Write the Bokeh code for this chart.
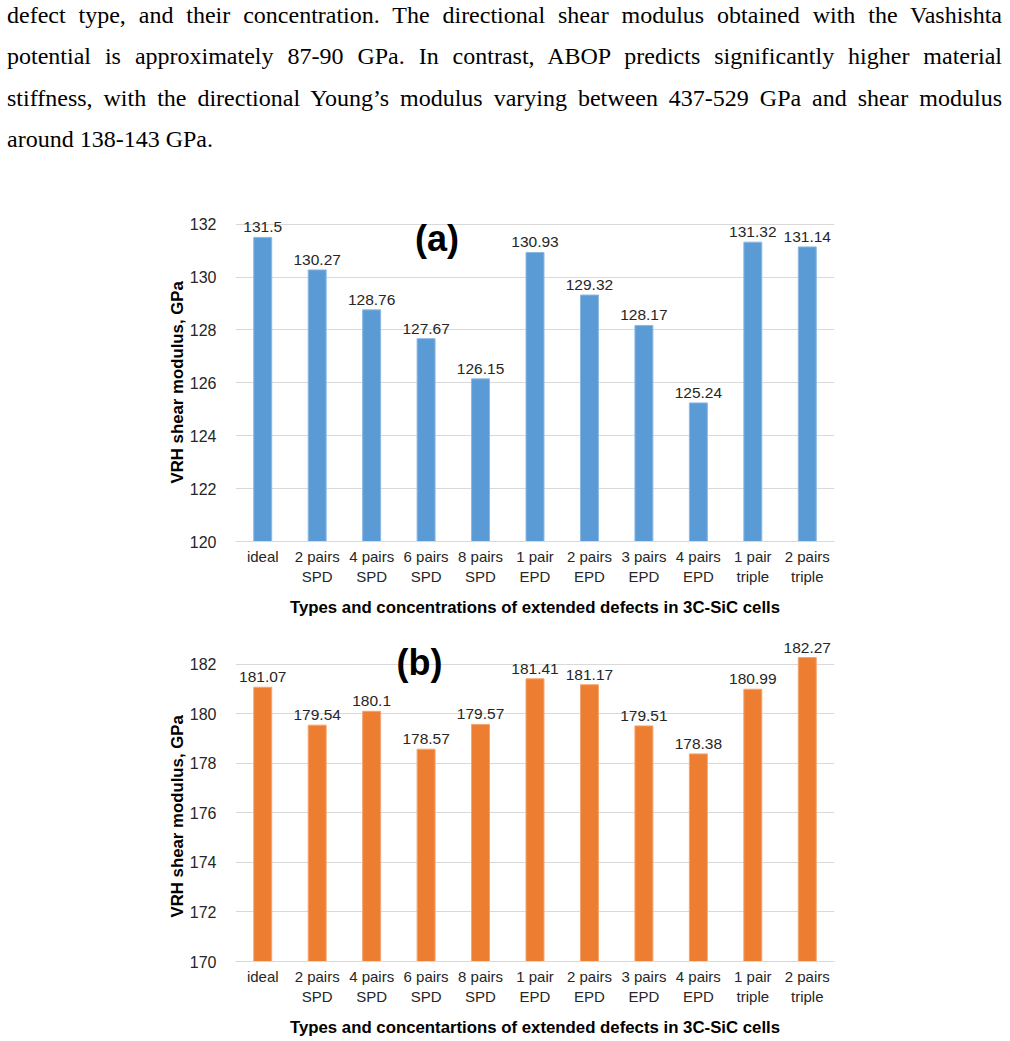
from bokeh.core.properties import value
from bokeh.embed import file_html
from bokeh.layouts import column
from bokeh.models import Div, FactorRange, FixedTicker, Label, Range1d, Title
from bokeh.plotting import figure
from bokeh.resources import INLINE

# ---------------------------------------------------------------- data
categories = [
    "ideal",
    "2 pairs\nSPD", "4 pairs\nSPD", "6 pairs\nSPD", "8 pairs\nSPD",
    "1 pair\nEPD", "2 pairs\nEPD", "3 pairs\nEPD", "4 pairs\nEPD",
    "1 pair\ntriple", "2 pairs\ntriple",
]
shear_a = [131.5, 130.27, 128.76, 127.67, 126.15, 130.93, 129.32, 128.17, 125.24, 131.32, 131.14]
shear_b = [181.07, 179.54, 180.1, 178.57, 179.57, 181.41, 181.17, 179.51, 178.38, 180.99, 182.27]
ticks_a = [120, 122, 124, 126, 128, 130, 132]
ticks_b = [170, 172, 174, 176, 178, 180, 182]

y_title = "VRH shear modulus, GPa"
x_title_a = "Types and concentrations of extended defects in 3C-SiC cells"
x_title_b = "Types and concentartions of extended defects in 3C-SiC cells"

paragraph_lines = [
    "defect type, and their concentration. The directional shear modulus obtained with the Vashishta",
    "potential is approximately 87-90 GPa. In contrast, ABOP predicts significantly higher material",
    "stiffness, with the directional Young\u2019s modulus varying between 437-529 GPa and shear modulus",
    "around 138-143 GPa.",
]

SANS = "Liberation Sans"
TEXT_DARK = "#262626"
W = 1010


def bar_panel(values, ticks, fill, edge, height, b_top, b_bottom, b_left, y_top,
              x_title, tag, tag_xy, ytitle_offset):
    p = figure(
        width=W, height=height,
        x_range=FactorRange(factors=categories),
        y_range=Range1d(ticks[0], y_top),
        output_backend="svg", toolbar_location=None,
        min_border_top=b_top, min_border_bottom=b_bottom,
        min_border_left=b_left, min_border_right=W - b_left - 601,
        background_fill_color="white", border_fill_color="white",
    )
    p.outline_line_color = None
    p.xgrid.grid_line_color = None
    p.ygrid.ticker = FixedTicker(ticks=ticks)
    p.ygrid.grid_line_color = "#D9D9D9"
    p.ygrid.grid_line_width = 1

    p.vbar(x=categories, top=values, bottom=ticks[0], width=0.33,
           fill_color=fill, line_color=edge, line_width=1)

    # value labels above the bars
    p.text(x=categories, y=values, text=[f"{v:g}" for v in values],
           text_align="center", text_baseline="bottom", y_offset=-5,
           text_font=value(SANS), text_font_size="15.5px", text_color=TEXT_DARK)

    ya = p.yaxis[0]
    ya.ticker = FixedTicker(ticks=ticks)
    ya.axis_line_color = None
    ya.major_tick_line_color = None
    ya.minor_tick_line_color = None
    ya.major_label_standoff = 13
    ya.major_label_text_font = SANS
    ya.major_label_text_font_size = "16px"
    ya.major_label_text_color = TEXT_DARK

    xa = p.xaxis[0]
    xa.axis_line_color = "#D9D9D9"
    xa.major_tick_line_color = None
    xa.minor_tick_line_color = None
    xa.major_label_standoff = 0
    xa.major_label_text_font = SANS
    xa.major_label_text_font_size = "15px"
    xa.major_label_text_color = TEXT_DARK
    xa.axis_label = x_title
    xa.axis_label_text_font = SANS
    xa.axis_label_text_font_size = "16.8px"
    xa.axis_label_text_font_style = "bold"
    xa.axis_label_text_color = "#000000"
    xa.axis_label_standoff = 10

    # vertical title beside the tick labels, placed along the tick span
    p.add_layout(Title(
        text=y_title, align="left", offset=ytitle_offset, standoff=0,
        text_font=SANS, text_font_size="16.8px", text_font_style="bold",
        text_color="#000000",
    ), "left")
    # panel tag
    p.add_layout(Label(
        x=tag_xy[0], y=tag_xy[1], text=tag,
        text_align="center", text_baseline="middle",
        text_font=SANS, text_font_size="36px", text_font_style="bold",
        text_color="#000000",
    ))
    return p


fig_a = bar_panel(shear_a, ticks_a, "#5B9BD5", "#8DB8E3", 428, 12, 82, 235, 132.63,
                  x_title_a, "(a)", (3.70, 131.45), 58)
fig_b = bar_panel(shear_b, ticks_b, "#ED7D31", "#F3A571", 418, 10, 80, 233, 183.24,
                  x_title_b, "(b)", (3.38, 182.05), 44)

rows = []
for i, line in enumerate(paragraph_lines):
    last = "left" if i == len(paragraph_lines) - 1 else "justify"
    rows.append(
        f'<div style="text-align:justify;text-align-last:{last};">{line}</div>'
    )
para = Div(
    text=(
        '<div style="position:relative;top:-5px;left:7px;width:995px;'
        'font-family:\'Liberation Serif\',serif;font-size:24px;line-height:41.4px;color:#000;">'
        + "".join(rows) + "</div>"
    ),
    width=W, height=195, margin=(0, 0, 0, 0),
)

page = column(para, fig_a, fig_b)
open("out.html", "w").write(file_html(page, INLINE))
